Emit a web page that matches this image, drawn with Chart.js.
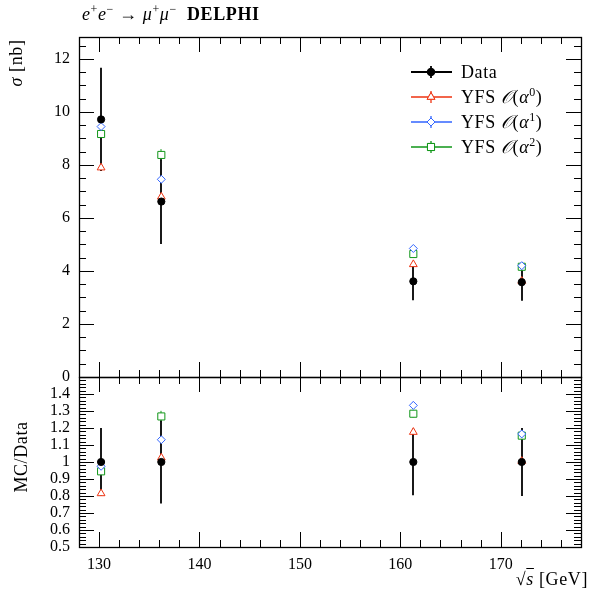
<!DOCTYPE html>
<html lang="en">
<head>
    <meta charset="UTF-8">
    <title>DELPHI mu mu cross section</title>
    <script src="https://cdn.jsdelivr.net/npm/chart.js@4.4.1/dist/chart.umd.min.js"></script>
    <style>
        body {
            margin: 0;
            background: #fff;
            font-family: 'Liberation Serif', 'DejaVu Serif', serif;
            color: #000;
        }
        .wrap {
            position: relative;
            width: 591px;
            height: 598px;
        }
        .wrap canvas {
            position: absolute;
            left: 0;
            top: 0;
        }
        .txt {
            position: absolute;
            white-space: nowrap;
            font-size: 17px;
            line-height: 20px;
        }
        .big {
            font-size: 18px;
            letter-spacing: 0.6px;
        }
        .rot {
            transform: translate(-50%, -50%) rotate(-90deg);
        }
        sup {
            font-size: 12px;
            line-height: 0;
            vertical-align: 7px;
        }
    </style>
</head>
<body>
<div class="wrap">
    <canvas id="xsecChart" width="591" height="598"></canvas>
    <canvas id="ratioChart" width="591" height="598"></canvas>

    <div class="txt" style="left:82px; top:4px; font-size:18px; letter-spacing:0.6px;"><i>e</i><sup>+</sup><i>e</i><sup>&minus;</sup> &rarr; <i>&mu;</i><sup>+</sup><i>&mu;</i><sup>&minus;</sup>&nbsp; <b>DELPHI</b></div>
    <div class="txt big rot" style="left:16px; top:63px;"><i>&sigma;</i> [nb]</div>
    <div class="txt big rot" style="left:21px; top:457px;">MC/Data</div>
    <div class="txt big" style="right:3px; top:569px;">&radic;<span style="text-decoration: overline;"><i>s</i></span> [GeV]</div>

    <div class="txt big" style="left:461px; top:62px;">Data</div>
    <div class="txt big" style="left:461px; top:87px;">YFS <i>&#x1D4AA;</i>(<i>&alpha;</i><sup>0</sup>)</div>
    <div class="txt big" style="left:461px; top:112px;">YFS <i>&#x1D4AA;</i>(<i>&alpha;</i><sup>1</sup>)</div>
    <div class="txt big" style="left:461px; top:137px;">YFS <i>&#x1D4AA;</i>(<i>&alpha;</i><sup>2</sup>)</div>
</div>
<script>
    // centre-of-mass energies (GeV)
    var energies = [130.2, 136.2, 161.3, 172.1];

    // sigma(e+e- -> mu+mu-) in nb
    var dataXsec = [9.72, 6.62, 3.61, 3.58];
    var dataErr = [1.95, 1.60, 0.71, 0.70];
    var yfs0 = [7.90, 6.80, 4.25, 3.62];
    var yfs1 = [9.45, 7.46, 4.85, 4.20];
    var yfs2 = [9.17, 8.38, 4.64, 4.16];
    var yfs0Err = [0.12, 0.12, 0.07, 0.06];
    var yfs1Err = [0.15, 0.15, 0.08, 0.07];
    var yfs2Err = [0.15, 0.22, 0.08, 0.07];

    // MC / Data
    var ratioData = [1, 1, 1, 1];
    var ratioDataErr = [0.200, 0.244, 0.196, 0.200];
    var ratio0 = [0.815, 1.025, 1.176, 1.005];
    var ratio1 = [0.975, 1.131, 1.333, 1.165];
    var ratio2 = [0.945, 1.268, 1.284, 1.155];
    var ratio0Err = [0.012, 0.018, 0.02, 0.017];
    var ratio1Err = [0.015, 0.022, 0.022, 0.02];
    var ratio2Err = [0.015, 0.033, 0.022, 0.02];

    // tick labels
    var xTicks = [130, 140, 150, 160, 170];
    var xsecTicks = [0, 2, 4, 6, 8, 10, 12];
    var ratioTicks = [0.5, 0.6, 0.7, 0.8, 0.9, 1, 1.1, 1.2, 1.3, 1.4];

    var RED = '#EE3311', BLUE = '#3366FF', GREEN = '#109618';
    var tickFont = { family: "'Liberation Serif', 'DejaVu Serif', serif", size: 16 };

    function pts(ys) {
        return energies.map(function (e, i) { return { x: e, y: ys[i] }; });
    }

    function ds(label, ys, errs, color, style, radius, fill, width) {
        return {
            label: label,
            data: pts(ys),
            errors: errs,
            errColor: color,
            errWidth: width,
            showLine: false,
            pointStyle: style,
            pointRadius: radius,
            pointBorderWidth: 1,
            pointBorderColor: color,
            pointBackgroundColor: fill
        };
    }

    // vertical error bars, drawn under the markers
    var errorBars = {
        id: 'errorBars',
        beforeDatasetsDraw: function (chart) {
            var ctx = chart.ctx, xs = chart.scales.x, ys = chart.scales.y;
            ctx.save();
            for (var d = chart.data.datasets.length - 1; d >= 0; d--) {
                var set = chart.data.datasets[d];
                ctx.strokeStyle = set.errColor;
                ctx.lineWidth = set.errWidth;
                set.data.forEach(function (p, i) {
                    var px = Math.round(xs.getPixelForValue(p.x));
                    ctx.beginPath();
                    ctx.moveTo(px, ys.getPixelForValue(p.y - set.errors[i]));
                    ctx.lineTo(px, ys.getPixelForValue(p.y + set.errors[i]));
                    ctx.stroke();
                });
            }
            ctx.restore();
        }
    };

    // frame with inward ticks on all four sides
    var frame = {
        id: 'frame',
        afterDraw: function (chart, args, o) {
            var ctx = chart.ctx, a = chart.chartArea;
            var xs = chart.scales.x, ys = chart.scales.y;
            var MAJ = 15, MIN = 7;
            ctx.save();
            ctx.strokeStyle = '#000';
            ctx.lineWidth = 1;
            ctx.beginPath();
            var n = Math.round((o.xMax - o.xMin) / o.xMinor);
            for (var i = 0; i <= n; i++) {
                var v = o.xMin + i * o.xMinor;
                var r = v / o.xMajor;
                var len = Math.abs(r - Math.round(r)) < 1e-6 ? MAJ : MIN;
                var px = Math.round(xs.getPixelForValue(v)) + 0.5;
                ctx.moveTo(px, a.top); ctx.lineTo(px, a.top + len);
                ctx.moveTo(px, a.bottom); ctx.lineTo(px, a.bottom - len);
            }
            n = Math.floor((ys.max - o.yMin) / o.yMinor + 1e-6);
            for (i = 0; i <= n; i++) {
                v = o.yMin + i * o.yMinor;
                r = v / o.yMajor;
                len = Math.abs(r - Math.round(r)) < 1e-6 ? MAJ : MIN;
                var py = Math.round(ys.getPixelForValue(v)) + 0.5;
                ctx.moveTo(a.left, py); ctx.lineTo(a.left + len, py);
                ctx.moveTo(a.right, py); ctx.lineTo(a.right - len, py);
            }
            ctx.stroke();
            ctx.lineWidth = 1.3;
            ctx.strokeRect(a.left + 0.5, a.top + 0.5, a.right - a.left, a.bottom - a.top);

            if (o.legend) {
                o.legend.forEach(function (it, k) {
                    var y = 72 + k * 25;
                    ctx.strokeStyle = it.color;
                    ctx.lineWidth = it.width;
                    ctx.beginPath();
                    ctx.moveTo(411, y); ctx.lineTo(452, y);
                    ctx.moveTo(431, y - 6); ctx.lineTo(431, y + 6);
                    ctx.stroke();
                    ctx.lineWidth = 1;
                    ctx.fillStyle = it.fill;
                    Chart.helpers.drawPoint(ctx, { pointStyle: it.style, radius: it.radius, rotation: 0, borderWidth: 1 }, 431, y);
                    ctx.fill();
                    ctx.stroke();
                });
            }
            ctx.restore();
        }
    };

    function yAxis(min, max, ticks) {
        return {
            type: 'linear',
            min: min,
            max: max,
            afterFit: function (s) { s.width = 79; },
            afterBuildTicks: function (s) { s.ticks = ticks.map(function (v) { return { value: v }; }); },
            grid: { display: false, drawTicks: false },
            border: { display: false },
            ticks: {
                font: tickFont, color: '#000', padding: 9, autoSkip: false,
                callback: function (v) { return String(v); }
            }
        };
    }

    var commonPlugins = { legend: { display: false }, tooltip: { enabled: false } };

    var xsecChart = new Chart(document.getElementById('xsecChart'), {
        type: 'scatter',
        data: {
            datasets: [
                ds('Data', dataXsec, dataErr, '#000', 'circle', 3.6, '#000', 1.8),
                ds('YFS O(a^0)', yfs0, yfs0Err, RED, 'triangle', 4.5, '#fff', 1),
                ds('YFS O(a^1)', yfs1, yfs1Err, BLUE, 'rectRot', 4, '#fff', 1),
                ds('YFS O(a^2)', yfs2, yfs2Err, GREEN, 'rect', 5, '#fff', 1)
            ]
        },
        options: {
            responsive: false,
            animation: false,
            events: [],
            layout: { padding: { left: 0, top: 37, right: 10, bottom: 221 } },
            scales: {
                x: { type: 'linear', min: 128, max: 178, display: false },
                y: yAxis(0, 12.83, xsecTicks)
            },
            plugins: Object.assign({}, commonPlugins, {
                frame: {
                    xMin: 128, xMax: 178, xMinor: 2, xMajor: 10,
                    yMin: 0, yMinor: 0.5, yMajor: 2,
                    legend: [
                        { color: '#000', width: 1.8, style: 'circle', radius: 3.6, fill: '#000' },
                        { color: RED, width: 1.3, style: 'triangle', radius: 4.5, fill: '#fff' },
                        { color: BLUE, width: 1.3, style: 'rectRot', radius: 4, fill: '#fff' },
                        { color: GREEN, width: 1.3, style: 'rect', radius: 5, fill: '#fff' }
                    ]
                }
            })
        },
        plugins: [errorBars, frame]
    });

    var ratioChart = new Chart(document.getElementById('ratioChart'), {
        type: 'scatter',
        data: {
            datasets: [
                ds('Data', ratioData, ratioDataErr, '#000', 'circle', 3.6, '#000', 1.8),
                ds('YFS O(a^0)', ratio0, ratio0Err, RED, 'triangle', 4.5, '#fff', 1),
                ds('YFS O(a^1)', ratio1, ratio1Err, BLUE, 'rectRot', 4, '#fff', 1),
                ds('YFS O(a^2)', ratio2, ratio2Err, GREEN, 'rect', 5, '#fff', 1)
            ]
        },
        options: {
            responsive: false,
            animation: false,
            events: [],
            layout: { padding: { left: 0, top: 377, right: 10, bottom: 21 } },
            scales: {
                x: {
                    type: 'linear',
                    min: 128,
                    max: 178,
                    afterFit: function (s) { s.height = 30; },
                    afterBuildTicks: function (s) { s.ticks = xTicks.map(function (v) { return { value: v }; }); },
                    grid: { display: false, drawTicks: false },
                    border: { display: false },
                    ticks: { font: tickFont, color: '#000', padding: 8, maxRotation: 0, autoSkip: false }
                },
                y: yAxis(0.5, 1.5, ratioTicks)
            },
            plugins: Object.assign({}, commonPlugins, {
                frame: { xMin: 128, xMax: 178, xMinor: 2, xMajor: 10, yMin: 0.5, yMinor: 0.02, yMajor: 0.1 }
            })
        },
        plugins: [errorBars, frame]
    });
</script>
</body>
</html>
